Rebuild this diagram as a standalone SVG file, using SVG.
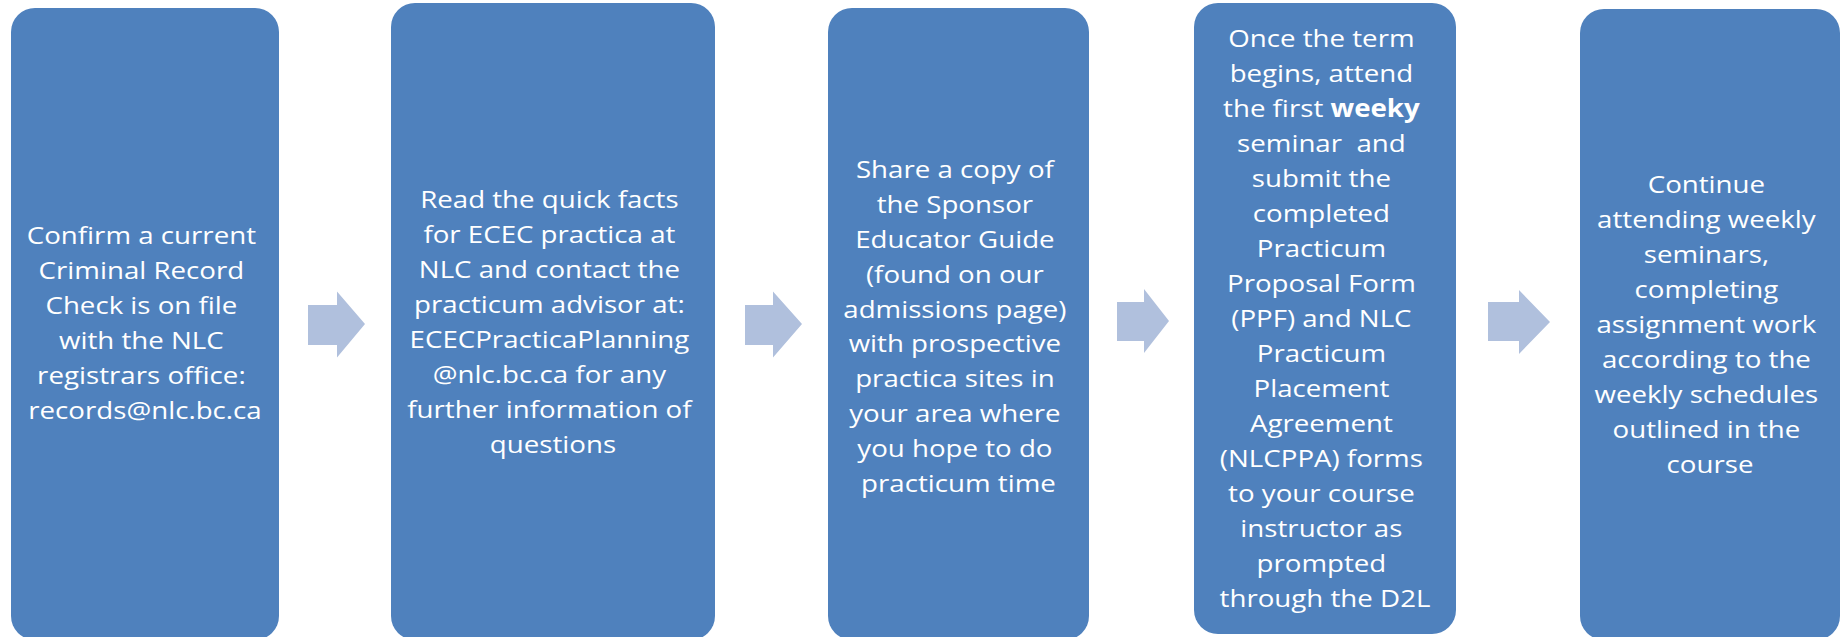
<svg xmlns="http://www.w3.org/2000/svg" width="1841" height="637" viewBox="0 0 1841 637">
<style>
.box{fill:#4F81BD;}
.arr{fill:#B0C0DD;}
.lbl{font-family:"Open Sans","Liberation Sans",sans-serif;font-size:24.5px;fill:#FFFFFF;text-anchor:middle;}
.b{font-weight:700;}
</style>
<rect width="1841" height="637" fill="#FFFFFF"/>
<g id="connectors">
<polygon class="arr" points="308,305 337,305 337,291.5 365,324 337,357.5 337,345 308,345"/>
<polygon class="arr" points="745,305 773,305 773,291.5 802,324 773,357.5 773,345 745,345"/>
<polygon class="arr" points="1117,302 1144,302 1144,289 1169,321 1144,353 1144,341 1117,341"/>
<polygon class="arr" points="1488,302 1519,302 1519,290 1550,322 1519,354 1519,341 1488,341"/>
</g>
<g id="node1">
<rect class="box" x="11" y="8" width="268" height="632" rx="24" ry="24"/>
<text class="lbl" transform="matrix(1.13 0 0 1 -18.85 0)">
<tspan x="145" y="244.5">Confirm a current</tspan>
<tspan x="145" y="279.5">Criminal Record</tspan>
<tspan x="145" y="314.5">Check is on file</tspan>
<tspan x="145" y="349.5">with the NLC</tspan>
<tspan x="145" y="384.5">registrars office:</tspan>
<tspan x="145" y="419.5">records@nlc.bc.ca</tspan>
</text>
</g>
<g id="node2">
<rect class="box" x="391" y="3" width="324" height="637" rx="24" ry="24"/>
<text class="lbl" transform="matrix(1.13 0 0 1 -71.89 0)">
<tspan x="553" y="208">Read the quick facts</tspan>
<tspan x="553" y="243">for ECEC practica at</tspan>
<tspan x="553" y="278">NLC and contact the</tspan>
<tspan x="553" y="313">practicum advisor at:</tspan>
<tspan x="553" y="348">ECECPracticaPlanning</tspan>
<tspan x="553" y="383">@nlc.bc.ca for any</tspan>
<tspan x="553" y="418">further information of</tspan>
<tspan x="553" y="453">questions</tspan>
</text>
</g>
<g id="node3">
<rect class="box" x="828" y="8" width="261" height="632" rx="24" ry="24"/>
<text class="lbl" transform="matrix(1.13 0 0 1 -124.6 0)">
<tspan x="958.5" y="178.5">Share a copy of</tspan>
<tspan x="958.5" y="213.3">the Sponsor</tspan>
<tspan x="958.5" y="248.1">Educator Guide</tspan>
<tspan x="958.5" y="282.9">(found on our</tspan>
<tspan x="958.5" y="317.7">admissions page)</tspan>
<tspan x="958.5" y="352.5">with prospective</tspan>
<tspan x="958.5" y="387.3">practica sites in</tspan>
<tspan x="958.5" y="422.1">your area where</tspan>
<tspan x="958.5" y="456.9">you hope to do</tspan>
<tspan x="958.5" y="491.7">practicum time</tspan>
</text>
</g>
<g id="node4">
<rect class="box" x="1194" y="3" width="262" height="631" rx="24" ry="24"/>
<text class="lbl" transform="matrix(1.13 0 0 1 -172.25 0)">
<tspan x="1325" y="46.7">Once the term</tspan>
<tspan x="1325" y="81.7">begins, attend</tspan>
<tspan x="1325" y="116.7">the first <tspan class="b">weeky</tspan></tspan>
<tspan x="1325" y="151.7">seminar&#160; and</tspan>
<tspan x="1325" y="186.7">submit the</tspan>
<tspan x="1325" y="221.7">completed</tspan>
<tspan x="1325" y="256.7">Practicum</tspan>
<tspan x="1325" y="291.7">Proposal Form</tspan>
<tspan x="1325" y="326.7">(PPF) and NLC</tspan>
<tspan x="1325" y="361.7">Practicum</tspan>
<tspan x="1325" y="396.7">Placement</tspan>
<tspan x="1325" y="431.7">Agreement</tspan>
<tspan x="1325" y="466.7">(NLCPPA) forms</tspan>
<tspan x="1325" y="501.7">to your course</tspan>
<tspan x="1325" y="536.7">instructor as</tspan>
<tspan x="1325" y="571.7">prompted</tspan>
<tspan x="1325" y="606.7">through the D2L</tspan>
</text>
</g>
<g id="node5">
<rect class="box" x="1580" y="9" width="260" height="631" rx="24" ry="24"/>
<text class="lbl" transform="matrix(1.13 0 0 1 -222.3 0)">
<tspan x="1710" y="193.5">Continue</tspan>
<tspan x="1710" y="228.5">attending weekly</tspan>
<tspan x="1710" y="263.5">seminars,</tspan>
<tspan x="1710" y="298.5">completing</tspan>
<tspan x="1710" y="333.5">assignment work</tspan>
<tspan x="1710" y="368.5">according to the</tspan>
<tspan x="1710" y="403.5">weekly schedules</tspan>
<tspan x="1710" y="438.5">outlined in the</tspan>
<tspan x="1710" y="473.5">course</tspan>
</text>
</g>
</svg>
